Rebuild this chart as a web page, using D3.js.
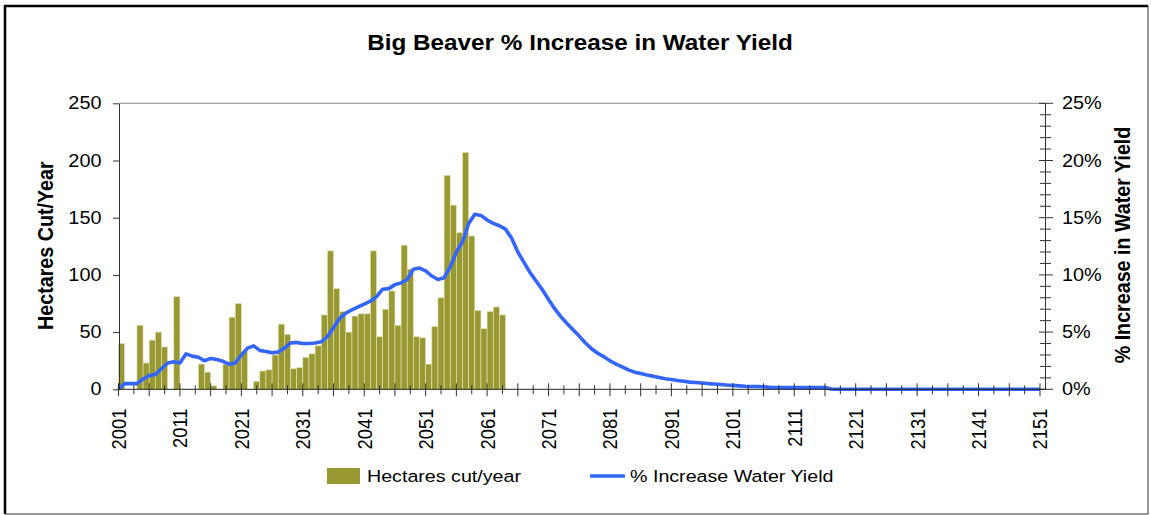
<!DOCTYPE html>
<html>
<head>
<meta charset="utf-8">
<script src="https://cdn.jsdelivr.net/npm/d3@7"></script>
<style>
  body { margin: 0; background: #fff; }
  text { font-family: "Liberation Sans", Arial, sans-serif; fill: #000; }
</style>
</head>
<body>
<div id="chart"></div>
<script>
// hectares cut per year, 2001 - 2063
var barStart = 2001;
var hectares = [40, 0, 0, 56, 23, 43, 50, 37, 0, 81,
  0, 0, 0, 22, 15, 3, 0, 22, 63, 75,
  33, 0, 7, 16, 17, 30, 57, 48, 18, 19,
  28, 31, 38, 65, 121, 88, 68, 50, 64, 66,
  66, 121, 46, 70, 86, 56, 126, 105, 46, 45,
  22, 55, 80, 187, 161, 137, 207, 134, 69, 53,
  68, 72, 65];

// % increase in water yield, 2001 - 2151
var lineStart = 2001;
var waterYield = [0.0, 0.5, 0.5, 0.5, 0.9, 1.2, 1.3, 1.8, 2.3, 2.4,
  2.3, 3.1, 2.9, 2.8, 2.5, 2.7, 2.6, 2.45, 2.2, 2.3,
  3.0, 3.6, 3.8, 3.4, 3.3, 3.2, 3.25, 3.6, 4.05, 4.1,
  4.0, 4.0, 4.05, 4.15, 4.6, 5.4, 6.2, 6.65, 6.95, 7.2,
  7.45, 7.7, 8.1, 8.75, 8.8, 9.15, 9.3, 9.6, 10.5, 10.6,
  10.35, 9.9, 9.6, 9.75, 10.7, 12.0, 12.9, 14.5, 15.3, 15.2,
  14.8, 14.5, 14.3, 14.0, 13.2, 12.0, 11.1, 10.2, 9.45, 8.7,
  7.85, 7.05, 6.35, 5.75, 5.2, 4.65, 4.05, 3.55, 3.15, 2.85,
  2.5, 2.2, 1.95, 1.7, 1.5, 1.38, 1.25, 1.15, 1.03, 0.92,
  0.85, 0.77, 0.7, 0.63, 0.6, 0.55, 0.5, 0.47, 0.42, 0.37,
  0.34, 0.3, 0.26, 0.25, 0.25, 0.22, 0.17, 0.15, 0.15, 0.15,
  0.15, 0.15, 0.15, 0.15, 0.15, 0.15, 0.02, 0, 0, 0,
  0, 0, 0, 0, 0, 0, 0, 0, 0, 0,
  0, 0, 0, 0, 0, 0, 0, 0, 0, 0,
  0, 0, 0, 0, 0, 0, 0, 0, 0, 0,
  0];

var xLabels = d3.range(2001, 2152, 10);
var leftTicks = [0, 50, 100, 150, 200, 250];
var rightTicks = [0, 5, 10, 15, 20, 25];

var svgWidth = 1151;
var svgHeight = 515;
var stretch = 1.13; // text in the picture is a bit wide

var svg = d3.select("#chart")
  .append("svg")
  .attr("width", svgWidth)
  .attr("height", svgHeight);

// outer frame
svg.append("path")
  .attr("d", "M5,514 L5,6 L1148,6")
  .attr("fill", "none")
  .attr("stroke", "#000")
  .attr("stroke-width", 2.5);
svg.append("line")
  .attr("x1", 5).attr("x2", 1148).attr("y1", 514).attr("y2", 514)
  .attr("stroke", "#333").attr("stroke-width", 1);
svg.append("line")
  .attr("x1", 1148).attr("x2", 1148).attr("y1", 6).attr("y2", 514)
  .attr("stroke", "#333").attr("stroke-width", 1);

var plotLeft = 119, plotRight = 1045.5, plotTop = 103.3, plotBottom = 389.3;

var x = d3.scaleLinear().domain([2001, 2151]).range([118.5, 1040]);
var yL = d3.scaleLinear().domain([0, 250]).range([plotBottom, plotTop]);
var yR = d3.scaleLinear().domain([0, 25]).range([plotBottom, plotTop]);

function addText(g, str, tx, ty, opts) {
  var t = g.append("text")
    .attr("transform", "translate(" + tx + "," + ty + ") scale(" + stretch + ",1)" + (opts.rotate ? " rotate(-90)" : ""))
    .attr("text-anchor", opts.anchor || "middle")
    .attr("dominant-baseline", opts.baseline || "alphabetic")
    .style("font-size", opts.size + "px")
    .style("font-weight", opts.bold ? "bold" : "normal")
    .text(str);
  return t;
}

// title
addText(svg, "Big Beaver % Increase in Water Yield", 580, 50, { size: 21.5, bold: true });

// plot area top border
svg.append("line")
  .attr("x1", plotLeft).attr("x2", plotRight)
  .attr("y1", plotTop).attr("y2", plotTop)
  .attr("stroke", "#8c8c8c").attr("stroke-width", 1);

// bars
svg.append("g").selectAll("rect")
  .data(hectares)
  .enter()
  .append("rect")
  .attr("x", (d, i) => x(barStart + i))
  .attr("width", (d, i) => x(barStart + i + 1) - x(barStart + i))
  .attr("y", d => yL(d))
  .attr("height", d => plotBottom - yL(d))
  .attr("fill", "#999933")
  .attr("stroke", "#e4e4bc")
  .attr("stroke-width", 0.6);

// water yield line
var line = d3.line()
  .x((d, i) => x(lineStart + i))
  .y(d => yR(d));

svg.append("path")
  .datum(waterYield)
  .attr("d", line)
  .attr("fill", "none")
  .attr("stroke", "#3366ff")
  .attr("stroke-width", 3.6)
  .attr("stroke-linejoin", "round");

// left axis
var leftAxis = d3.axisLeft(yL).tickValues(leftTicks).tickSize(6).tickSizeOuter(0).tickFormat("");
var gLeft = svg.append("g")
  .attr("transform", `translate(${plotLeft},0)`)
  .call(leftAxis);
gLeft.selectAll("path, line").attr("stroke", "#333");
leftTicks.forEach(function (v) {
  addText(svg, String(v), 101.5, yL(v), { size: 17.6, anchor: "end", baseline: "central" });
});

// right axis with crossing ticks
svg.append("line")
  .attr("x1", plotRight).attr("x2", plotRight)
  .attr("y1", plotTop).attr("y2", plotBottom)
  .attr("stroke", "#333");
svg.append("g").selectAll("line")
  .data(d3.range(0, 26))
  .enter()
  .append("line")
  .attr("x1", d => d % 5 === 0 ? plotRight - 6.5 : plotRight - 5.5)
  .attr("x2", d => d % 5 === 0 ? plotRight + 7.5 : plotRight + 5.5)
  .attr("y1", d => yR(d))
  .attr("y2", d => yR(d))
  .attr("stroke", "#333");
rightTicks.forEach(function (v) {
  addText(svg, v + "%", 1062, yR(v), { size: 17.6, anchor: "start", baseline: "central" });
});

// bottom axis
svg.append("line")
  .attr("x1", plotLeft).attr("x2", plotRight)
  .attr("y1", plotBottom).attr("y2", plotBottom)
  .attr("stroke", "#222");
svg.append("g").selectAll("line")
  .data(d3.range(0, 61))
  .enter()
  .append("line")
  .attr("x1", k => x(2001 + k * 2.5))
  .attr("x2", k => x(2001 + k * 2.5))
  .attr("y1", k => k % 2 === 0 ? plotBottom - 6 : plotBottom - 4)
  .attr("y2", k => k % 2 === 0 ? plotBottom + 7 : plotBottom + 5)
  .attr("stroke", "#333");
xLabels.forEach(function (yr) {
  addText(svg, String(yr), x(yr), 408.5, { size: 18.4, anchor: "end", baseline: "central", rotate: true });
});

// axis titles
addText(svg, "Hectares Cut/Year", 45, 245.7, { size: 19.7, bold: true, rotate: true, baseline: "central" });
addText(svg, "% Increase in Water Yield", 1122.5, 245, { size: 19.7, bold: true, rotate: true, baseline: "central" });

// legend
svg.append("rect")
  .attr("x", 327).attr("y", 468)
  .attr("width", 33).attr("height", 16)
  .attr("fill", "#999933");
addText(svg, "Hectares cut/year", 367, 476, { size: 17.4, anchor: "start", baseline: "central" });
svg.append("line")
  .attr("x1", 590).attr("x2", 625)
  .attr("y1", 476).attr("y2", 476)
  .attr("stroke", "#3366ff")
  .attr("stroke-width", 3.6);
addText(svg, "% Increase Water Yield", 630, 476, { size: 17.4, anchor: "start", baseline: "central" });
</script>
</body>
</html>
